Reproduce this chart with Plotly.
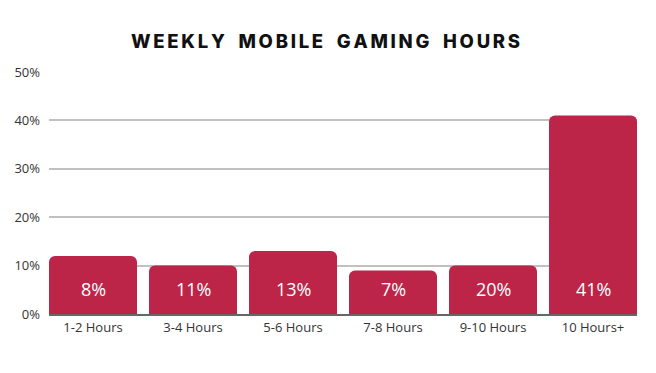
import plotly.graph_objects as go

categories = ["1-2 Hours", "3-4 Hours", "5-6 Hours", "7-8 Hours", "9-10 Hours", "10 Hours+"]
bar_heights = [12, 10, 13, 9, 10, 41]
bar_labels = ["8%", "11%", "13%", "7%", "20%", "41%"]
y_ticks = [0, 10, 20, 30, 40, 50]
title_text = "WEEKLY MOBILE GAMING HOURS"

BAR_COLOR = "#bc2547"
FONT = "Open Sans"

spaced_title = "\u2009".join(list(title_text)).replace("\u2009 \u2009", "\u2009\u2009\u2009\u2009\u2009")

fig = go.Figure()
fig.add_trace(go.Bar(
    x=categories,
    y=bar_heights,
    marker=dict(color=BAR_COLOR, line=dict(width=0)),
    hoverinfo="skip",
))

for c, lab in zip(categories, bar_labels):
    fig.add_annotation(x=c, y=5.2, text=lab, showarrow=False,
                       font=dict(family=FONT, size=18, color="white"),
                       xanchor="center", yanchor="middle")

fig.update_layout(
    width=656, height=373,
    margin=dict(l=41, r=27, t=64, b=67, autoexpand=False),
    paper_bgcolor="white", plot_bgcolor="white",
    bargap=0.12,
    barcornerradius=6,
    showlegend=False,
    title=dict(text=spaced_title, x=0.484, xanchor="center", y=0.909, yanchor="middle",
               font=dict(family="Inter", size=18.5, color="#111", weight=800)),
    xaxis=dict(range=[-0.44, 5.44], showgrid=False, ticks="", automargin=False,
               tickfont=dict(family=FONT, size=13, color="#333"),
               showline=True, linecolor="#666", linewidth=2, zeroline=False),
    yaxis=dict(range=[0, 50], tickvals=y_ticks, ticktext=[f"{v}%" for v in y_ticks],
               showgrid=True, gridcolor="#c0c0c0", gridwidth=1.5, automargin=False,
               zeroline=False, showline=False, ticks="",
               ticklabelstandoff=8,
               tickfont=dict(family=FONT, size=13, color="#333")),
    font=dict(family=FONT),
)

fig.write_html("out.html")
